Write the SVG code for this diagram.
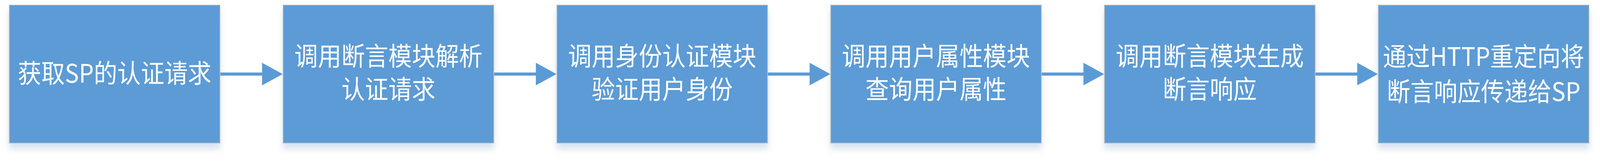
<svg xmlns="http://www.w3.org/2000/svg" width="4488" height="413" viewBox="0 0 4488 413" preserveAspectRatio="none" style="max-width:100%;display:block">
<defs>
<style>
.box{fill:#5B9BD5;stroke:#BFBFBF;stroke-width:2;filter:url(#sh)}
.lbl{fill:#FFFFFF;font-family:"Noto Sans CJK SC","Microsoft YaHei",sans-serif;font-size:66px;text-anchor:middle}
.ln{stroke:#5B9BD5;stroke-width:8;fill:none}
.hd{fill:#5B9BD5}
</style>
<filter id="sh" x="-10%" y="-10%" width="120%" height="130%">
<feDropShadow dx="0" dy="14" stdDeviation="9" flood-color="#7E9CC8" flood-opacity="0.3"/>
</filter>
</defs>
<rect width="4488" height="413" fill="#FFFFFF"/>
<g id="connectors">
<line class="ln" x1="617" y1="190" x2="737" y2="190"/><polygon class="hd" points="735,161 793,190 735,219"/>
<line class="ln" x1="1385" y1="190" x2="1505" y2="190"/><polygon class="hd" points="1503,161 1561,190 1503,219"/>
<line class="ln" x1="2153" y1="190" x2="2273" y2="190"/><polygon class="hd" points="2271,161 2329,190 2271,219"/>
<line class="ln" x1="2921" y1="190" x2="3041" y2="190"/><polygon class="hd" points="3039,161 3097,190 3039,219"/>
<line class="ln" x1="3689" y1="190" x2="3809" y2="190"/><polygon class="hd" points="3807,161 3865,190 3807,219"/>
</g>
<g id="n1"><rect class="box" x="26" y="13" width="591" height="354"/><text class="lbl" x="321.5" y="212">获取SP的认证请求</text></g>
<g id="n2"><rect class="box" x="794" y="13" width="591" height="354"/><text class="lbl"><tspan x="1089.5" y="168">调用断言模块解析</tspan><tspan x="1089.5" y="253">认证请求</tspan></text></g>
<g id="n3"><rect class="box" x="1562" y="13" width="591" height="354"/><text class="lbl"><tspan x="1857.5" y="168">调用身份认证模块</tspan><tspan x="1857.5" y="253">验证用户身份</tspan></text></g>
<g id="n4"><rect class="box" x="2330" y="13" width="591" height="354"/><text class="lbl"><tspan x="2625.5" y="168">调用用户属性模块</tspan><tspan x="2625.5" y="253">查询用户属性</tspan></text></g>
<g id="n5"><rect class="box" x="3098" y="13" width="591" height="354"/><text class="lbl"><tspan x="3393.5" y="168">调用断言模块生成</tspan><tspan x="3393.5" y="253">断言响应</tspan></text></g>
<g id="n6"><rect class="box" x="3866" y="13" width="591" height="354"/><text class="lbl"><tspan x="4161.5" y="169">通过HTTP重定向将</tspan><tspan x="4161.5" y="259">断言响应传递给SP</tspan></text></g>
</svg>
